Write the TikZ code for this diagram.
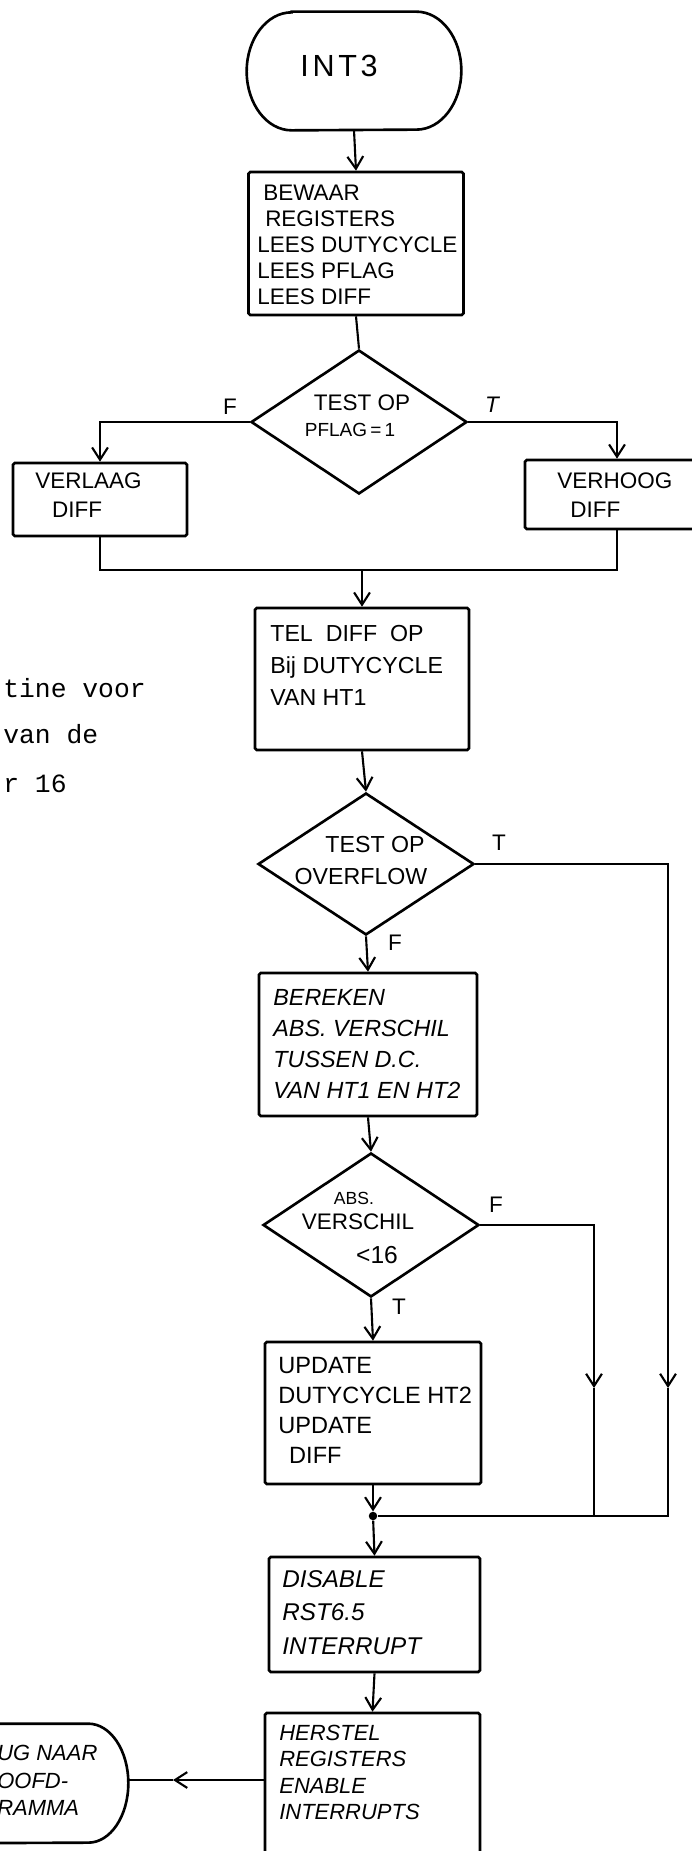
\documentclass[tikz,border=0pt]{standalone}
\usepackage{fontspec}
\setmainfont{Liberation Sans}
\setmonofont{Liberation Mono}
\usetikzlibrary{shapes.geometric,arrows.meta}
\begin{document}
\begin{tikzpicture}[x=0.02cm,y=-0.02cm,
  box/.style={draw, line width=1.5pt, rounded corners=1pt, inner sep=0pt},
  dia/.style={draw, diamond, line width=1.5pt, inner sep=0pt, minimum width=4.32cm, minimum height=2.88cm},
  term/.style={inner sep=0pt},
  conn/.style={line width=1.2pt},
  arr/.style={conn, -{Straight Barb[length=7pt,width=9pt]}},
  txt/.style={inner sep=0pt, anchor=north west, align=left},
  ctr/.style={inner sep=0pt},
  lbl/.style={inner sep=0pt, font=\fontsize{12.8}{14}\selectfont},
]
\useasboundingbox (0,0) rectangle (692,1851);
\clip (0,0) rectangle (692,1851);

% ---------- shapes ----------
\node[term, minimum width=4.28cm, minimum height=2.36cm] (int3) at (354,71) {};
\draw[line width=1.5pt] ([xshift=0.9cm]int3.north west) -- ([xshift=-0.9cm]int3.north east)
  arc[start angle=90,end angle=-90,x radius=0.9cm,y radius=1.18cm]
  -- ([xshift=0.9cm]int3.south west)
  arc[start angle=270,end angle=90,x radius=0.9cm,y radius=1.18cm] -- cycle;

\node[box, minimum width=4.3cm, minimum height=2.86cm] (bew) at (356,243.5) {};
\node[dia] (d1) at (359,422) {};
\node[box, minimum width=3.48cm, minimum height=1.46cm] (vl) at (100,499.5) {};
\node[box, minimum width=3.68cm, minimum height=1.38cm] (vh) at (617,494.5) {};
\node[box, minimum width=4.28cm, minimum height=2.84cm] (tel) at (362,679) {};
\node[dia, minimum height=2.84cm] (ovf) at (366,864) {};
\node[box, minimum width=4.36cm, minimum height=2.86cm] (berek) at (368,1044.5) {};
\node[dia] (abs) at (371,1225) {};
\node[box, minimum width=4.32cm, minimum height=2.84cm] (upd) at (373,1413) {};
\node[circle, fill, inner sep=0pt, minimum size=0.17cm] (dot) at (373,1516) {};
\node[box, minimum width=4.22cm, minimum height=2.3cm] (dis) at (374.5,1614.5) {};
\node[box, minimum width=4.3cm, minimum height=3.34cm] (her) at (372.5,1796.5) {};

\node[term, minimum width=4.8cm, minimum height=2.38cm] (ret) at (8,1783.5) {};
\draw[line width=1.5pt] ([xshift=0.8cm]ret.north west) -- ([xshift=-0.8cm]ret.north east)
  arc[start angle=90,end angle=-90,x radius=0.8cm,y radius=1.19cm]
  -- ([xshift=0.8cm]ret.south west)
  arc[start angle=270,end angle=90,x radius=0.8cm,y radius=1.19cm] -- cycle;

% ---------- texts ----------
\node[ctr, font=\fontsize{17.4}{20}\selectfont\addfontfeature{LetterSpace=12}] (tint3) at (339,66) {INT3};

\node[txt, font=\fontsize{12.8}{14.7}\selectfont] (tbew) at (257,185)
  {\hspace{3.4pt}BEWAAR\\\hspace{4.5pt}REGISTERS\\LEES DUTYCYCLE\\LEES PFLAG\\LEES DIFF};

\node[ctr, font=\fontsize{12.8}{14}\selectfont] (td1a) at (362,403) {TEST OP};
\node[ctr, font=\fontsize{10.8}{12}\selectfont] (td1b) at (350,430) {PFLAG\,=\,1};

\node[txt, font=\fontsize{12.8}{17}\selectfont] (tvl) at (35,472) {VERLAAG\\\hspace{9.6pt}DIFF};
\node[txt, font=\fontsize{12.8}{17}\selectfont] (tvh) at (557,472) {VERHOOG\\\hspace{7.4pt}DIFF};

\node[txt, font=\fontsize{13.2}{18.1}\selectfont] (ttel) at (270,625)
  {TEL~~DIFF~~OP\\Bij DUTYCYCLE\\VAN HT1};

\node[ctr, font=\fontsize{13.2}{14}\selectfont] (tovfa) at (375,845) {TEST OP};
\node[ctr, font=\fontsize{13.2}{14}\selectfont] (tovfb) at (361,877) {OVERFLOW};

\node[txt, font=\fontsize{13.3}{17.6}\selectfont\itshape] (tberek) at (273,989)
  {BEREKEN\\ABS. VERSCHIL\\TUSSEN D.C.\\VAN HT1 EN HT2};

\node[ctr, font=\fontsize{10}{12}\selectfont] (tabsa) at (354,1198) {ABS.};
\node[ctr, font=\fontsize{12.8}{14}\selectfont] (tabsb) at (358,1222) {VERSCHIL};
\node[ctr, font=\fontsize{14}{16}\selectfont] (tabsc) at (377,1255) {<16};

\node[txt, font=\fontsize{13.4}{17}\selectfont] (tupd) at (278,1357)
  {UPDATE\\DUTYCYCLE HT2\\UPDATE\\\hspace{6.2pt}DIFF};

\node[txt, font=\fontsize{13.8}{19}\selectfont\itshape] (tdis) at (282,1570)
  {DISABLE\\RST6.5\\INTERRUPT};

\node[txt, font=\fontsize{12.5}{14.9}\selectfont\itshape] (ther) at (279,1725)
  {HERSTEL\\REGISTERS\\ENABLE\\INTERRUPTS};

\node[txt, font=\fontsize{12.5}{15.6}\selectfont\itshape] (tret) at (-3,1745)
  {UG NAAR\\OOFD-\\RAMMA};

% caption fragment
\node[anchor=base west, inner sep=0pt, font=\ttfamily\fontsize{15}{18}\selectfont] (cap1) at (3,697) {tine voor};
\node[anchor=base west, inner sep=0pt, font=\ttfamily\fontsize{15}{18}\selectfont] (cap2) at (3,743) {van de};
\node[anchor=base west, inner sep=0pt, font=\ttfamily\fontsize{15}{18}\selectfont] (cap3) at (3,792) {r 16};

% branch labels
\node[lbl] (lf1) at (230,407) {F};
\node[lbl, font=\fontsize{12.8}{14}\selectfont\itshape] (lt1) at (492,405) {T};
\node[lbl] (lt2) at (499,843) {T};
\node[lbl] (lf2) at (395,943) {F};
\node[lbl] (lf3) at (496,1205) {F};
\node[lbl] (lt3) at (399,1307) {T};

% ---------- connectors ----------
\coordinate (m) at (362,570);
\coordinate (tmid) at (668,1388);
\coordinate (fmid) at (594,1388);
\coordinate (rmid) at (173,1780);

\draw[arr] (int3.south) -- (bew.north);
\draw[conn] (bew.south) -- (d1.north);
\draw[arr] (d1.west) -| (vl.north);
\draw[arr] (d1.east) -| (vh.north);
\draw[conn] (vl.south) |- (m) -| (vh.south);
\draw[arr] (m) -- (tel.north);
\draw[arr] (tel.south) -- (ovf.north);
\draw[arr] (ovf.south) -- (berek.north);
\draw[arr] (ovf.east) -| (tmid);
\draw[conn] (tmid) |- (dot);
\draw[arr] (berek.south) -- (abs.north);
\draw[arr] (abs.east) -| (fmid);
\draw[conn] (fmid) -- (fmid |- dot);
\draw[arr] (abs.south) -- (upd.north);
\draw[arr] (upd.south) -- (dot);
\draw[arr] (dot) -- (dis.north);
\draw[arr] (dis.south) -- (her.north);
\draw[arr] (her.west |- rmid) -- (rmid);
\draw[conn] (rmid) -- (ret.east |- rmid);
\end{tikzpicture}
\end{document}
